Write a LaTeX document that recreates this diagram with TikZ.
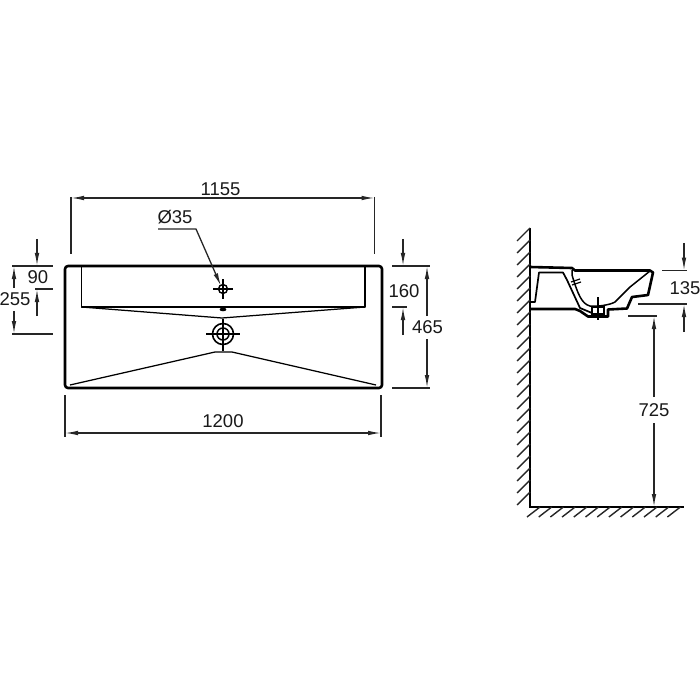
\documentclass[tikz,border=0pt]{standalone}
\usepackage{fontspec}
\setmainfont{Liberation Sans}
\usetikzlibrary{arrows.meta}
\tikzset{
  x=1pt,y=-1pt,
  dim/.style={line width=1.3pt,black!85},
  ext/.style={line width=1.3pt,black!85},
  arr/.style={dim,-{Latex[length=13pt,width=4.6pt]}},
  arrb/.style={dim,{Latex[length=13pt,width=4.6pt]}-{Latex[length=13pt,width=4.6pt]}},
  outl/.style={line width=2.6pt,black,line join=round},
  thin2/.style={line width=1.25pt,black},
  lab/.style={font=\fontsize{18.5}{20}\selectfont,inner sep=0pt,fill=none,text=black!90},
  hatchl/.style={line width=1.4pt,black!85}
}
\begin{document}
\begin{tikzpicture}
\useasboundingbox (0,0) rectangle (700,700);
% front view outline
\draw[outl,rounded corners=3pt] (65,266) -- (382,266) -- (382,388) -- (65,388) -- cycle;
% basin
\draw[line width=1.7pt,line join=round] (81.5,267) -- (81.5,307) -- (365,307) -- (365,267);
\coordinate (dl) at (81.5,307);
\coordinate (dr) at (365,307);
\draw[thin2] (dl) -- (222,318) -- (dr);
\draw[thin2] (70,385) -- (215,352) -- (232,352) -- (376,385);
% overflow
\fill (223,309.5) ellipse (3.4pt and 1.8pt);
\node[circle,draw,line width=1.4pt,minimum size=9pt,inner sep=0pt] (hole) at (223,289) {};
\draw[line width=1.3pt] (213,289) -- (233,289) (223,279) -- (223,299);
% drain
\node[circle,draw,line width=1.6pt,minimum size=21pt,inner sep=0pt] (drainA) at (223,334) {};
\node[circle,draw,line width=1.5pt,minimum size=12pt,inner sep=0pt] (drainB) at (223,334) {};
\draw[line width=1.3pt] (206,334) -- (240,334) (223,319) -- (223,351);
% top dimension 1155
\coordinate (a1) at (71,198); \coordinate (a2) at (374.5,198);
\draw[ext] (71,197) -- (71,254) (374.5,197) -- (374.5,254);
\draw[arrb] (a1) -- (a2);
\node[lab] (t1155) at (220.5,189) {1155};
% dia 35
\node[lab] (tdia) at (175,217) {Ø35};
\coordinate (l1) at (158,229); \coordinate (l2) at (196,229); \coordinate (l3) at (221,286);
\draw[arr] (l1) -- (l2) -- (l3);
% bottom 1200
\draw[ext] (65,395) -- (65,437) (381,395) -- (381,437);
\coordinate (b1) at (65,433); \coordinate (b2) at (381,433);
\draw[arrb] (b1) -- (b2);
\node[lab] (t1200) at (223,421) {1200};
% left dims
\draw[ext] (12,266) -- (53,266) (35,289) -- (53,289) (12,334) -- (53,334);
\coordinate (c0) at (37,239); \coordinate (c1) at (37,266);
\draw[arr] (c0) -- (c1);
\coordinate (c2) at (37,316); \coordinate (c3) at (37,289);
\draw[arr] (c2) -- (c3);
\coordinate (d1) at (14,288); \coordinate (d2) at (14,266);
\draw[arr] (d1) -- (d2);
\coordinate (d3) at (14,311); \coordinate (d4) at (14,334);
\draw[arr] (d3) -- (d4);
\node[lab] (t90) at (38,277) {90};
\node[lab] (t255) at (15,299.5) {255};
% right dims
\draw[ext] (392,266) -- (430,266) (392,307) -- (407,307) (392,388) -- (430,388);
\draw[arr] (403,239) -- (403,266);
\draw[arr] (403,335) -- (403,307);
\draw[arr] (427,316) -- (427,266);
\draw[arr] (427,339) -- (427,388);
\node[lab] (t160) at (404,291) {160};
\node[lab] (t465) at (427.5,327) {465};
% wall and floor
\draw[line width=1.8pt] (530,228) -- (530,507);
\draw[line width=2.2pt] (529,507) -- (684,507);
\foreach \y in {228,240,...,500}{\draw[hatchl] (530,\y) -- (517,\y+13);}
\foreach \x in {540,551.7,...,684}{\draw[hatchl] (\x,507) -- (\x-13,517);}
% side section
\draw[outl] (530,267) -- (572,268) -- (575,270.5) -- (650,270.5) -- (653,272.5) -- (648,295) -- (632,297) -- (627,308.5) -- (608,309.5) -- (608,316.5) -- (588,316.5) -- (580,311) -- (575,309) -- (530,309);
\draw[line width=1.7pt,line join=round] (530,302) -- (535,302) -- (539,272.5) -- (563,272.5) -- (567,280) -- (580,308) -- (592,313);
\draw[line width=1.5pt] (650,271) -- (630,287) -- (615,302) .. controls (610,305) and (596,307) .. (590,306) .. controls (582,304) and (578,295) .. (572,275) -- (572,270);
\draw[line width=1.2pt] (571,282) -- (580,279) (572,285) -- (581,282);
\draw[line width=1.5pt] (592,307) rectangle (604,314);
\draw[line width=1.3pt] (598,297) -- (598,320);
% side dims
\draw[ext] (662,270.5) -- (687,270.5) (638,304) -- (687,304) (628,316) -- (657,316);
\draw[arr] (684,243) -- (684,270.5);
\draw[arr] (684,332) -- (684,304);
\draw[arr] (654,397) -- (654,316);
\draw[arr] (654,423) -- (654,507);
\node[lab] (t135) at (685,288) {135};
\node[lab] (t725) at (654,410) {725};
\end{tikzpicture}
\end{document}
